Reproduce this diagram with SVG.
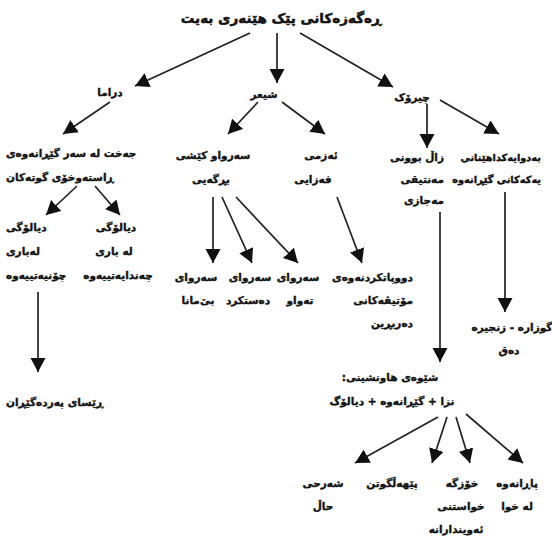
<svg xmlns="http://www.w3.org/2000/svg" width="552" height="538" viewBox="0 0 552 538">
<style>
text{font-family:"DejaVu Sans","Noto Sans",sans-serif;font-weight:bold;font-size:10.5px;fill:#111;stroke:#111;stroke-width:0.35;text-anchor:middle;direction:rtl}
.t{font-size:13.5px;stroke-width:0.5}
.r{text-anchor:start}
.l{text-anchor:end}
.s{font-size:9.8px}
.c line{stroke:#222;stroke-width:1.7;marker-end:url(#ah)}
</style>
<defs>
<marker id="ah" markerUnits="userSpaceOnUse" markerWidth="16" markerHeight="16" refX="14" refY="7.5" orient="auto">
<path d="M0,0 L14,7.5 L0,15 z" fill="#111"/>
</marker>
</defs>
<rect width="552" height="538" fill="#fff"/>
<g class="c" id="connectors">
<line x1="250" y1="33" x2="135" y2="86"/>
<line x1="277" y1="33" x2="277" y2="83"/>
<line x1="300" y1="33" x2="393" y2="87"/>
<line x1="110" y1="102" x2="63" y2="134"/>
<line x1="258" y1="102" x2="228" y2="134"/>
<line x1="282" y1="102" x2="325" y2="134"/>
<line x1="427" y1="104" x2="427" y2="148"/>
<line x1="440" y1="100" x2="499" y2="134"/>
<line x1="77" y1="186" x2="46" y2="215"/>
<line x1="95" y1="186" x2="120" y2="215"/>
<line x1="213" y1="197" x2="213" y2="263"/>
<line x1="222" y1="197" x2="252" y2="263"/>
<line x1="236" y1="197" x2="298" y2="263"/>
<line x1="337" y1="197" x2="362" y2="263"/>
<line x1="38" y1="292" x2="38" y2="372"/>
<line x1="440" y1="212" x2="440" y2="362"/>
<line x1="505" y1="192" x2="505" y2="312"/>
<line x1="438" y1="417" x2="355" y2="463"/>
<line x1="447" y1="417" x2="432" y2="463"/>
<line x1="456" y1="417" x2="470" y2="463"/>
<line x1="466" y1="414" x2="523" y2="463"/>
</g>
<g id="title"><text class="t" x="281" y="23">ڕەگەزەکانی پێک هێنەری بەیت</text></g>
<g id="drama"><text x="110" y="96">دراما</text></g>
<g id="shier"><text x="264" y="98">شیعر</text></g>
<g id="chirok"><text x="412" y="101">چیرۆک</text></g>
<g id="jext"><text class="l" x="6" y="157">جەخت لە سەر گێڕانەوەی</text><text class="l" x="6" y="181">ڕاستەوخۆی گوتەکان</text></g>
<g id="dialog1"><text class="l" x="6" y="231">دیالۆگی</text><text class="l" x="6" y="255">لەباری</text><text class="l" x="6" y="279">چۆنیەتییەوە</text></g>
<g id="dialog2"><text x="116" y="231">دیالۆگی</text><text x="114" y="255">لە باری</text><text x="118" y="279">چەندایەتییەوە</text></g>
<g id="resa"><text class="l" x="6" y="406">ڕێسای پەردەگێڕان</text></g>
<g id="serwa"><text x="213" y="159">سەرواو کێشی</text><text x="211" y="183">بڕگەیی</text></g>
<g id="ezmi"><text x="321" y="159">ئەزمی</text><text x="313" y="183">فەزایی</text></g>
<g id="s1"><text x="196" y="281">سەروای</text><text x="198" y="304">بێ‌مانا</text></g>
<g id="s2"><text x="250" y="281">سەروای</text><text x="248" y="304">دەستکرد</text></g>
<g id="s3"><text x="298" y="281">سەروای</text><text x="300" y="304">تەواو</text></g>
<g id="dupat"><text class="r" x="413" y="281">دووپاتکردنەوەی</text><text class="r" x="413" y="304">مۆتیڤەکانی</text><text class="r" x="413" y="327">دەربڕین</text></g>
<g id="zal"><text class="r" x="444" y="161">زاڵ بوونی</text><text class="r" x="444" y="183">مەنتیقی</text><text class="r" x="444" y="204">مەجازی</text></g>
<g id="bedwa"><text class="r s" x="541" y="161">بەدوایەکداهێنانی</text><text class="r s" x="541" y="183">یەکەکانی گێڕانەوە</text></g>
<g id="zncir"><text x="512" y="331">گوزارە - زنجیرە</text><text x="509" y="354">دەق</text></g>
<g id="shewe"><text x="390" y="381">شێوەی هاونشینی:</text><text x="392" y="405">نزا + گێڕانەوە + دیالۆگ</text></g>
<g id="sherh"><text x="323" y="487">شەرحی</text><text x="323" y="510">حاڵ</text></g>
<g id="pehel"><text x="392" y="487">پێهەڵگوتن</text></g>
<g id="xozge"><text x="462" y="487">خۆزگە</text><text x="461" y="510">خواستنی</text><text x="456" y="533">ئەویندارانە</text></g>
<g id="parane"><text x="517" y="487">پاڕانەوە</text><text x="517" y="510">لە خوا</text></g>
</svg>
